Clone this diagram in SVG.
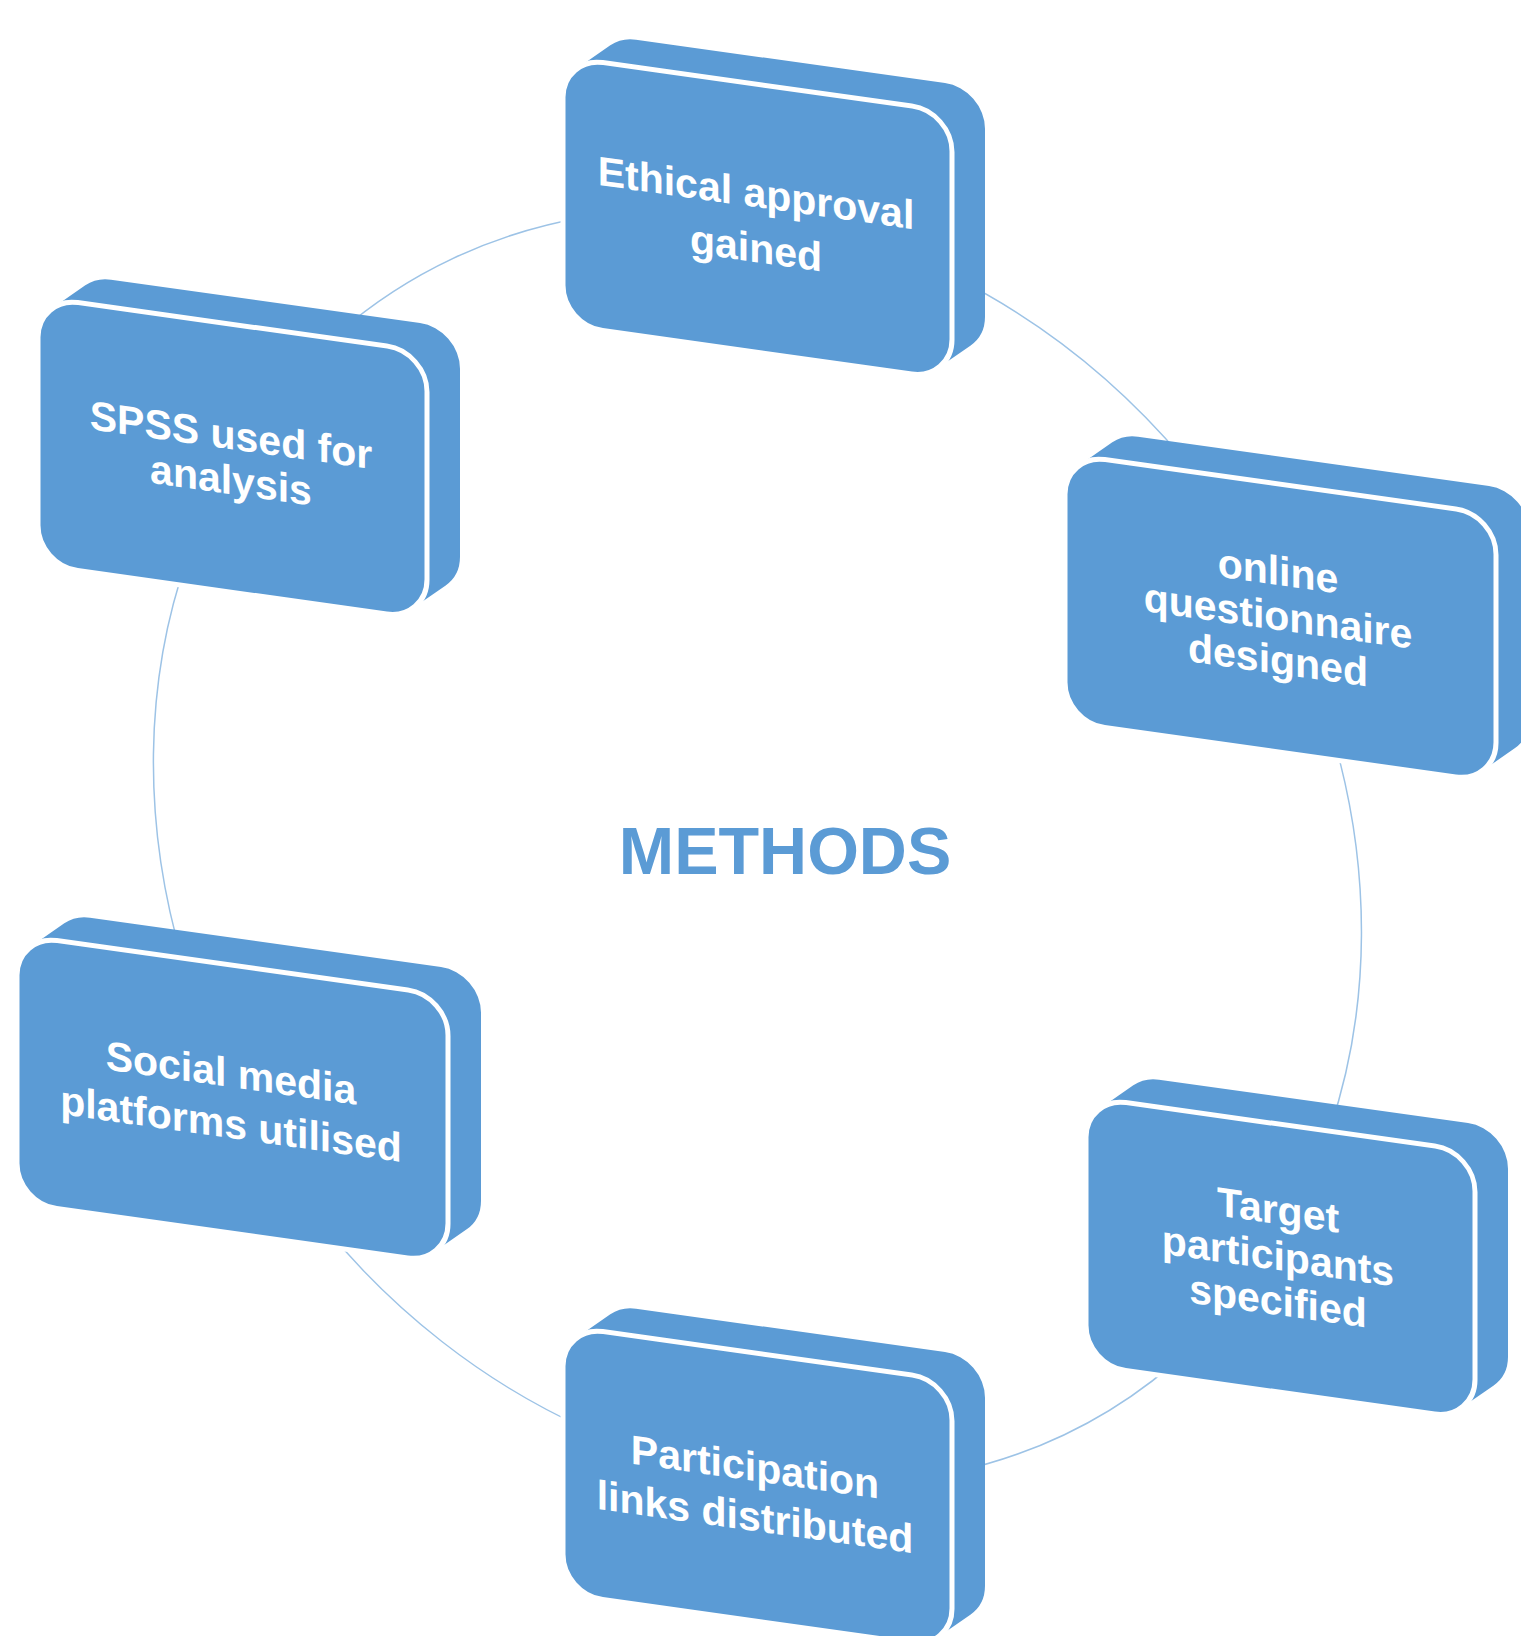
<svg xmlns="http://www.w3.org/2000/svg" xmlns:xlink="http://www.w3.org/1999/xlink" width="1521" height="1636" viewBox="0 0 1521 1636">
<style>
.ext{fill:#5B9BD5;}
.face{fill:#5B9BD5;stroke:#FFFFFF;stroke-width:5;}
.lbl{font-family:"Liberation Sans",Arial,sans-serif;font-weight:bold;font-size:41px;fill:#FFFFFF;text-anchor:middle;}
.title{font-family:"Liberation Sans",Arial,sans-serif;font-weight:bold;font-size:66.5px;fill:#5B9BD5;text-anchor:middle;}
.arc{fill:none;stroke:#9DC3E6;stroke-width:1.5;}
</style>
<defs>
<path id="ext389" d="M14.3,9.3 L47.3,-18.3 A40,40 0 0 1 73,-27.6 L382,-27.6 A40,40 0 0 1 422,12.4 L422,200.4 A40,40 0 0 1 407.7,231.1 L374.7,258.7 A40,40 0 0 1 349,268 L40,268 A40,40 0 0 1 0,228 L0,40 A40,40 0 0 1 14.3,9.3 Z"/>
<path id="ext431" d="M14.3,9.3 L47.3,-18.3 A40,40 0 0 1 73,-27.6 L424,-27.6 A40,40 0 0 1 464,12.4 L464,200.4 A40,40 0 0 1 449.7,231.1 L416.7,258.7 A40,40 0 0 1 391,268 L40,268 A40,40 0 0 1 0,228 L0,40 A40,40 0 0 1 14.3,9.3 Z"/>
<rect id="face389" x="0" y="0" width="389" height="268" rx="40" ry="40"/>
<rect id="face431" x="0" y="0" width="431" height="268" rx="40" ry="40"/>
</defs>
<rect x="0" y="0" width="1521" height="1636" fill="#FFFFFF"/>

<g id="connectors" transform="translate(757.4,847) skewY(8)">
<path class="arc" d="M196.6,-597.6 A604,632 0 0 1 427.1,-446.9"/>
<path class="arc" d="M574.5,-195.3 A604,632 0 0 1 572.5,201.6"/>
<path class="arc" d="M434.5,439 A604,632 0 0 1 196.6,597.6"/>
<path class="arc" d="M-171.5,605.9 A604,632 0 0 1 -438.1,435.1"/>
<path class="arc" d="M-574.5,195.3 A604,632 0 0 1 -569.3,-211"/>
<path class="arc" d="M-419.6,-454.6 A604,632 0 0 1 -171.5,-605.9"/>
</g>

<g id="center-title">
<text class="title" x="785" y="874">METHODS</text>
</g>

<g id="node-ethical" transform="translate(563,57) skewY(8)">
<use href="#ext389" class="ext"/>
<use href="#face389" class="face"/>
<text class="lbl" x="193" y="123">Ethical approval</text>
<text class="lbl" x="193" y="178">gained</text>
</g>

<g id="node-questionnaire" transform="translate(1065,454) skewY(8)">
<use href="#ext431" class="ext"/>
<use href="#face431" class="face"/>
<text class="lbl" x="213" y="101">online</text>
<text class="lbl" x="213" y="146">questionnaire</text>
<text class="lbl" x="213" y="190">designed</text>
</g>

<g id="node-target" transform="translate(1086,1097) skewY(8)">
<use href="#ext389" class="ext"/>
<use href="#face389" class="face"/>
<text class="lbl" x="192" y="100">Target</text>
<text class="lbl" x="192" y="146">participants</text>
<text class="lbl" x="192" y="191">specified</text>
</g>

<g id="node-participation" transform="translate(563,1326) skewY(8)">
<use href="#ext389" class="ext"/>
<use href="#face389" class="face"/>
<text class="lbl" x="192" y="128">Participation</text>
<text class="lbl" x="192" y="178">links distributed</text>
</g>

<g id="node-social" transform="translate(17,935) skewY(8)">
<use href="#ext431" class="ext"/>
<use href="#face431" class="face"/>
<text class="lbl" x="214" y="122">Social media</text>
<text class="lbl" x="214" y="173">platforms utilised</text>
</g>

<g id="node-spss" transform="translate(38,297) skewY(8)">
<use href="#ext389" class="ext"/>
<use href="#face389" class="face"/>
<text class="lbl" x="193" y="125">SPSS used for</text>
<text class="lbl" x="193" y="170">analysis</text>
</g>
</svg>
